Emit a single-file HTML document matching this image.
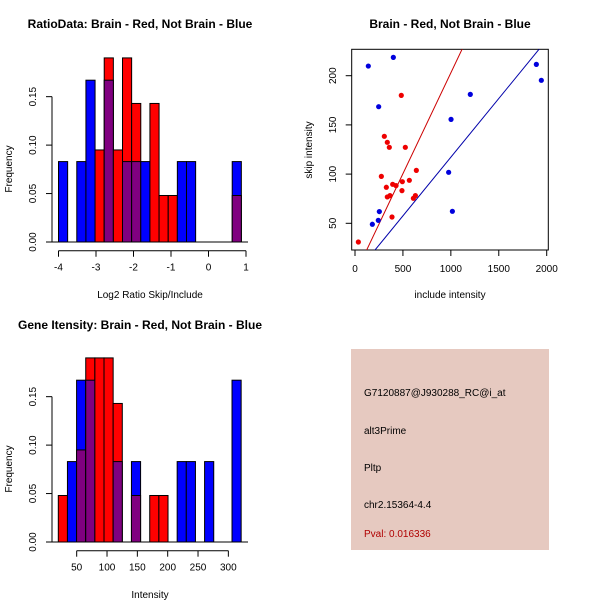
<!DOCTYPE html>
<html><head><meta charset="utf-8"><style>
body{margin:0;background:#fff}
svg{display:block;font-family:"Liberation Sans",Arial,sans-serif}
</style></head><body>
<svg id="c" width="600" height="600" viewBox="0 0 600 600">
<rect width="600" height="600" fill="#fff"/>
<text x="140" y="28" text-anchor="middle" font-size="12" font-weight="bold">RatioData: Brain - Red, Not Brain - Blue</text>
<text x="450" y="28" text-anchor="middle" font-size="12" font-weight="bold">Brain - Red, Not Brain - Blue</text>
<text x="140" y="329" text-anchor="middle" font-size="12" font-weight="bold">Gene Itensity: Brain - Red, Not Brain - Blue</text>
<text x="150" y="298" text-anchor="middle" font-size="10">Log2 Ratio Skip/Include</text>
<text x="150" y="598" text-anchor="middle" font-size="10">Intensity</text>
<text x="450" y="298" text-anchor="middle" font-size="10">include intensity</text>
<text transform="translate(12,169) rotate(-90)" text-anchor="middle" font-size="10">Frequency</text>
<text transform="translate(12,469) rotate(-90)" text-anchor="middle" font-size="10">Frequency</text>
<text transform="translate(312,150) rotate(-90)" text-anchor="middle" font-size="10">skip intensity</text>
<g>
<rect x="351" y="349" width="198" height="201" fill="#e6c9c0"/>
<text x="364" y="396" font-size="10">G7120887@J930288_RC@i_at</text>
<text x="364" y="434" font-size="10">alt3Prime</text>
<text x="364" y="471" font-size="10">Pltp</text>
<text x="364" y="508" font-size="10">chr2.15364-4.4</text>
<text x="364" y="537" font-size="10" fill="#b00000">Pval: 0.016336</text>
</g>
<g id="g"></g>
</svg>
<script>
// Histogram 1 (log2 ratio)
const h1Start = -4, h1Width = 0.2438;
const h1Red  = [0,0,0,0,0.095,0.19,0.095,0.19,0.143,0,0.143,0.048,0.048,0,0,0,0,0,0,0.048];
const h1Blue = [0.083,0,0.083,0.167,0,0.167,0,0.083,0.083,0.083,0,0,0,0.083,0.083,0,0,0,0,0.083];
const h1XTicks = [-4,-3,-2,-1,0,1];
const h1YTicks = [0,0.05,0.10,0.15];
const h1YLabels = ["0.00","0.05","0.10","0.15"];
// Histogram 2 (intensity)
const h2Start = 19.7, h2Width = 15.07;
const h2Red  = [0.048,0,0.095,0.19,0.19,0.19,0.143,0,0.048,0,0.048,0.048,0,0,0,0,0,0,0,0];
const h2Blue = [0,0.083,0.167,0.167,0,0,0.083,0,0.083,0,0,0,0,0.083,0.083,0,0.083,0,0,0.167];
const h2XTicks = [50,100,150,200,250,300];
const h2YTicks = [0,0.05,0.10,0.15];
const h2YLabels = ["0.00","0.05","0.10","0.15"];
// Scatter
const blueX = [139,400,247,1892,1944,1203,1002,977,1016,254,243,181];
const blueY = [209.8,218.6,168.5,211.5,195.3,181,155.6,101.8,62.2,61.9,53,49];
const redX = [35,483,306,337,358,525,275,327,337,365,393,428,490,386,567,640,609,630,494];
const redY = [31,180,138.4,132.3,127.2,127.2,97.7,86.6,76.8,78.1,89.6,88.3,83.2,56.4,93.7,103.8,75.4,78.1,92.3];
const lineIntercepts = [-2.1,-2.0];
const lineSlopes = [0.205,0.1192];
const sXTicks = [0,500,1000,1500,2000];
const sYTicks = [50,100,150,200];

const NS="http://www.w3.org/2000/svg";
const G=document.getElementById('g');
function mk(t,a,p){const e=document.createElementNS(NS,t);for(const k in a)e.setAttribute(k,a[k]);(p||G).appendChild(e);return e;}

function hist(start,width,red,blue,xt,yt,yl,px0,pxPer,py0,pyPer,axY,name){
  const X=v=>px0+(v-start)*pxPer, Y=v=>py0-v*pyPer;
  const n=red.length;
  for(let i=0;i<n;i++){
    const a=X(start+i*width), b=X(start+(i+1)*width);
    const r=red[i], bl=blue[i];
    const hi=Math.max(r,bl), lo=Math.min(r,bl);
    if(hi>0){
      const col = r>=bl ? 'red' : 'blue';
      const el=mk('rect',{x:a,y:Y(hi),width:b-a,height:Y(0)-Y(hi),fill:col,stroke:'#000','stroke-width':1});
      
      
    }
    if(lo>0){
      const el=mk('rect',{x:a,y:Y(lo),width:b-a,height:Y(0)-Y(lo),fill:'#800080',stroke:'#000','stroke-width':1});
      
      
    }
  }
  const base=mk('line',{x1:52,x2:248,y1:Y(0),y2:Y(0),stroke:'#000'});
  
  
  // x axis
  const xax=mk('g',{});
  
  
  const xs=xt.map(v=>px0+(v-start)*pxPer);
  mk('line',{x1:xs[0],x2:xs[xs.length-1],y1:axY,y2:axY,stroke:'#000'},xax);
  xt.forEach((v,i)=>{mk('line',{x1:xs[i],x2:xs[i],y1:axY,y2:axY+6,stroke:'#000'},xax);
    const t=mk('text',{x:xs[i],y:axY+20,'text-anchor':'middle','font-size':10},xax);t.textContent=v;});
  // y axis
  const yax=mk('g',{});
  
  
  mk('line',{x1:52,x2:52,y1:Y(yt[0]),y2:Y(yt[yt.length-1]),stroke:'#000'},yax);
  yt.forEach((v,i)=>{const y=Y(v);mk('line',{x1:46,x2:52,y1:y,y2:y,stroke:'#000'},yax);
    const t=mk('text',{transform:`translate(36,${y}) rotate(-90)`,'text-anchor':'middle','font-size':10},yax);t.textContent=yl[i];});
}
hist(h1Start,h1Width,h1Red,h1Blue,h1XTicks,h1YTicks,h1YLabels,58.5,37.5,242,968.9,250.7,'ratio-hist');
hist(h2Start,h2Width,h2Red,h2Blue,h2XTicks,h2YTicks,h2YLabels,58.3,0.6067,542,968.9,550.7,'intensity-hist');

// Scatter
const SX=v=>355+v*0.09585, SY=v=>223.3-(v-50)*0.984;
const box=mk('rect',{x:351.7,y:49.3,width:196.6,height:200.7,fill:'none',stroke:'#000'});


const cp=mk('clipPath',{id:'sclip'});mk('rect',{x:351.7,y:49.3,width:196.6,height:200.7},cp);
const cols=['#cc0000','#0000aa'];
lineIntercepts.forEach((b,i)=>{
  const x0=0,x1=2100;
  const l=mk('line',{x1:SX(x0),y1:SY(b+lineSlopes[i]*x0),x2:SX(x1),y2:SY(b+lineSlopes[i]*x1),stroke:cols[i],'stroke-width':1,'clip-path':'url(#sclip)'});
  
  
});
blueX.forEach((x,i)=>{const c=mk('circle',{cx:SX(x),cy:SY(blueY[i]),r:2.6,fill:'#0000dd'});
  
  });
redX.forEach((x,i)=>{const c=mk('circle',{cx:SX(x),cy:SY(redY[i]),r:2.6,fill:'#ee0000'});
  
  });
const sxa=mk('g',{});


sXTicks.forEach(v=>{mk('line',{x1:SX(v),x2:SX(v),y1:250,y2:256,stroke:'#000'},sxa);
  const t=mk('text',{x:SX(v),y:272,'text-anchor':'middle','font-size':10},sxa);t.textContent=v;});
const sya=mk('g',{});


sYTicks.forEach(v=>{mk('line',{x1:345.7,x2:351.7,y1:SY(v),y2:SY(v),stroke:'#000'},sya);
  const t=mk('text',{transform:`translate(336,${SY(v)}) rotate(-90)`,'text-anchor':'middle','font-size':10},sya);t.textContent=v;});
</script>
</body></html>
